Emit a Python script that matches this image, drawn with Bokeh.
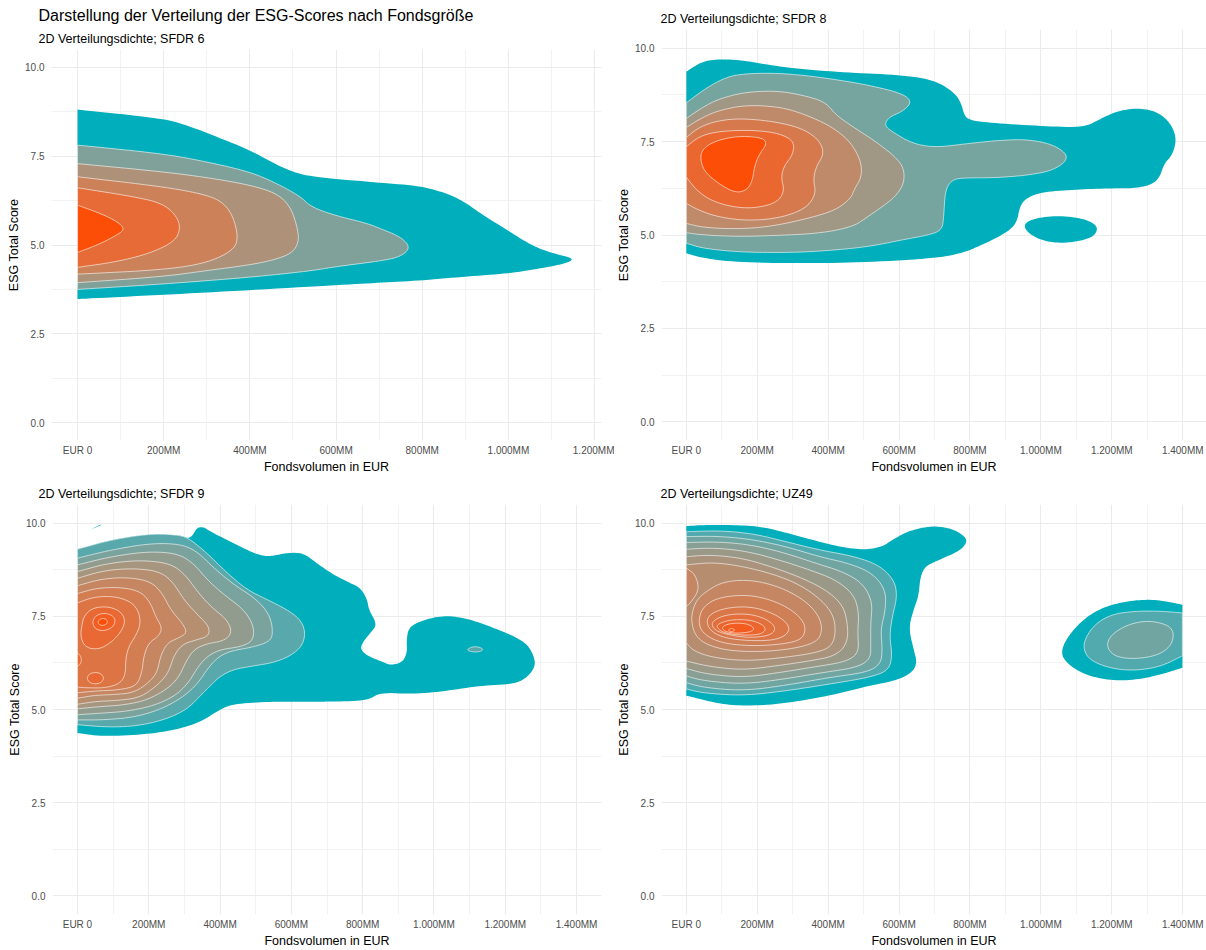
from bokeh.plotting import figure
from bokeh.layouts import column, row
from bokeh.models import FixedTicker, Range1d, Title, NumeralTickFormatter
from bokeh.embed import file_html
from bokeh.resources import INLINE

FONT = "Liberation Sans"

MAIN_TITLE = "Darstellung der Verteilung der ESG-Scores nach Fondsgröße"
SUBTITLES = ["2D Verteilungsdichte; SFDR 6", "2D Verteilungsdichte; SFDR 8",
             "2D Verteilungsdichte; SFDR 9", "2D Verteilungsdichte; UZ49"]
X_LABEL = "Fondsvolumen in EUR"
Y_LABEL = "ESG Total Score"
X_TICKS = [0, 200, 400, 600, 800, 1000, 1200, 1400]
X_TICK_LABELS = ["EUR 0", "200MM", "400MM", "600MM", "800MM", "1.000MM", "1.200MM", "1.400MM"]
Y_TICKS = [0, 2.5, 5, 7.5, 10]
LOW_COLOR = "#00AFBB"
HIGH_COLOR = "#FC4E07"

# ---------------- contour outlines (x = Fondsvolumen in Mio. EUR, y = ESG score) ----------------
# SFDR 6
sfdr6_l1 = [(0, 8.81), (198, 8.56), (254, 8.37), (324, 8.04), (400, 7.67), (463, 7.25), (500, 7.06),
            (541, 6.92), (703, 6.75), (796, 6.66), (858, 6.45), (897, 6.22), (935, 5.89), (997, 5.42),
            (1052, 5.0), (1098, 4.78), (1158, 4.61), (1121, 4.44), (1052, 4.30), (1000, 4.20),
            (899, 4.11), (796, 4.0), (703, 3.94), (600, 3.87), (400, 3.73), (200, 3.60), (0, 3.48)]
sfdr6_l2 = [(0, 7.81), (198, 7.57), (300, 7.34), (400, 7.06), (463, 6.73), (518, 6.36), (541, 6.08),
            (595, 5.84), (672, 5.61), (703, 5.46), (750, 5.23), (773, 4.93), (750, 4.67), (703, 4.55),
            (599, 4.39), (541, 4.27), (400, 4.09), (198, 3.90), (0, 3.75)]
sfdr6_l3 = [(0, 7.29), (198, 7.06), (300, 6.90), (400, 6.69), (463, 6.45), (494, 6.08), (510, 5.51),
            (514, 5.09), (498, 4.77), (456, 4.58), (400, 4.44), (300, 4.28), (198, 4.11), (0, 3.94)]
sfdr6_l4 = [(0, 6.92), (198, 6.64), (285, 6.45), (333, 6.25), (360, 5.85), (373, 5.23), (363, 4.86),
            (300, 4.49), (198, 4.30), (0, 4.18)]
sfdr6_l5 = [(0, 6.61), (131, 6.36), (198, 6.17), (231, 5.80), (239, 5.44), (224, 5.09), (169, 4.77),
            (92, 4.53), (0, 4.37)]
sfdr6_l6 = [(0, 6.12), (53, 5.89), (92, 5.66), (111, 5.44), (84, 5.23), (46, 5.0), (0, 4.79)]

# SFDR 8
sfdr8_l1 = [(0, 9.37), (38, 9.61), (76, 9.70), (141, 9.70), (235, 9.55), (328, 9.43), (469, 9.34),
            (609, 9.28), (702, 9.14), (759, 8.79), (777, 8.48), (782, 8.25), (796, 8.07), (871, 7.99),
            (1011, 7.91), (1123, 7.88), (1170, 8.12), (1217, 8.32), (1273, 8.40), (1329, 8.30),
            (1366, 7.99), (1383, 7.58), (1371, 7.14), (1348, 6.92), (1334, 6.52), (1310, 6.34),
            (1264, 6.25), (1198, 6.25), (1105, 6.22), (1011, 6.16), (964, 6.02), (941, 5.80),
            (932, 5.31), (899, 5.04), (833, 4.73), (777, 4.51), (702, 4.38), (515, 4.27),
            (328, 4.24), (141, 4.27), (48, 4.38), (0, 4.51)]
sfdr8_l1b = [(950, 5.29), (983, 5.45), (1048, 5.52), (1114, 5.45), (1151, 5.31), (1161, 5.13),
             (1142, 4.91), (1076, 4.78), (1011, 4.82), (964, 5.04)]
sfdr8_l2 = [(0, 8.54), (48, 8.88), (94, 9.14), (141, 9.30), (235, 9.34), (328, 9.28), (422, 9.16),
            (515, 9.01), (609, 8.79), (637, 8.56), (609, 8.30), (572, 8.16), (558, 7.94), (581, 7.76),
            (637, 7.45), (702, 7.34), (796, 7.45), (889, 7.54), (964, 7.56), (1039, 7.41), (1082, 7.08),
            (1039, 6.74), (964, 6.60), (871, 6.53), (777, 6.53), (749, 6.47), (730, 6.20), (726, 5.49),
            (721, 5.13), (684, 5.0), (609, 4.87), (515, 4.69), (422, 4.60), (328, 4.54), (235, 4.53),
            (141, 4.55), (48, 4.64), (0, 4.78)]
sfdr8_l3 = [(0, 8.12), (48, 8.43), (94, 8.65), (169, 8.83), (263, 8.86), (347, 8.70), (394, 8.54),
            (422, 8.21), (469, 7.90), (534, 7.50), (590, 7.09), (614, 6.78), (614, 6.38), (590, 6.03),
            (553, 5.76), (506, 5.45), (469, 5.22), (375, 5.04), (235, 4.98), (141, 4.96), (48, 5.0),
            (0, 5.06)]
sfdr8_l4 = [(0, 7.88), (48, 8.16), (94, 8.34), (169, 8.48), (263, 8.43), (328, 8.25), (403, 7.94),
            (459, 7.54), (492, 7.01), (495, 6.56), (474, 6.23), (464, 5.98), (422, 5.67), (347, 5.45),
            (235, 5.22), (141, 5.16), (48, 5.20), (0, 5.31)]
sfdr8_l5 = [(0, 7.61), (38, 7.90), (94, 8.07), (160, 8.12), (253, 8.03), (328, 7.85), (375, 7.54),
            (389, 7.18), (366, 6.83), (358, 6.47), (366, 6.11), (338, 5.71), (263, 5.45), (169, 5.38),
            (85, 5.49), (29, 5.69), (0, 5.85)]
sfdr8_l6 = [(0, 7.36), (38, 7.65), (94, 7.78), (188, 7.81), (263, 7.72), (305, 7.50), (300, 7.14),
            (277, 6.87), (267, 6.56), (277, 6.16), (253, 5.85), (188, 5.71), (123, 5.76), (66, 5.94),
            (29, 6.20), (6, 6.47), (0, 6.56)]
sfdr8_l7 = [(43, 7.27), (76, 7.50), (141, 7.65), (216, 7.61), (227, 7.43), (207, 7.18), (193, 6.87),
            (186, 6.43), (169, 6.19), (137, 6.13), (90, 6.38), (52, 6.69), (40, 6.99)]

# SFDR 9
sfdr9_l1 = [(0, 9.30), (93, 9.55), (205, 9.72), (289, 9.68), (317, 9.56), (340, 9.97), (383, 9.72),
            (439, 9.46), (495, 9.19), (532, 9.10), (560, 9.15), (598, 9.21), (635, 9.19), (672, 8.92),
            (719, 8.61), (766, 8.39), (794, 8.26), (813, 7.95), (817, 7.68), (841, 7.28), (822, 7.06),
            (799, 6.79), (794, 6.61), (813, 6.44), (860, 6.26), (878, 6.19), (911, 6.26), (925, 6.52),
            (923, 6.88), (930, 7.22), (972, 7.41), (1028, 7.52), (1084, 7.46), (1131, 7.32),
            (1178, 7.15), (1224, 6.97), (1262, 6.75), (1280, 6.44), (1285, 6.17), (1262, 5.86),
            (1224, 5.68), (1131, 5.64), (1037, 5.50), (944, 5.41), (850, 5.46), (813, 5.24),
            (719, 5.21), (626, 5.21), (532, 5.21), (439, 5.15), (401, 5.01), (345, 4.66), (270, 4.44),
            (177, 4.32), (65, 4.28), (0, 4.37)]
sfdr9_l1b = [(30, 9.80), (55, 9.90), (70, 9.96), (62, 9.95), (40, 9.84)]
sfdr9_l2 = [(0, 9.30), (93, 9.55), (205, 9.72), (289, 9.68), (317, 9.56), (364, 9.19), (420, 8.66),
            (476, 8.21), (532, 7.95), (588, 7.68), (626, 7.41), (640, 7.06), (630, 6.70), (598, 6.44),
            (551, 6.26), (495, 6.17), (439, 6.08), (401, 5.90), (373, 5.64), (345, 5.37), (308, 5.01),
            (252, 4.75), (177, 4.57), (93, 4.52), (0, 4.59)]
sfdr9_l2b = [(1093, 6.61), (1104, 6.67), (1118, 6.69), (1134, 6.65), (1138, 6.60), (1128, 6.55),
             (1112, 6.54), (1098, 6.57)]
sfdr9_l3 = [(0, 9.06), (93, 9.28), (205, 9.46), (289, 9.44), (336, 9.24), (383, 8.79), (439, 8.35),
            (504, 7.95), (542, 7.50), (549, 6.97), (532, 6.79), (485, 6.66), (429, 6.57), (392, 6.39),
            (364, 6.08), (336, 5.68), (294, 5.32), (233, 5.0), (158, 4.79), (74, 4.72), (0, 4.72)]
sfdr9_l4 = [(0, 8.88), (93, 9.10), (196, 9.24), (280, 9.19), (326, 8.92), (364, 8.48), (411, 8.08),
            (467, 7.68), (495, 7.24), (493, 6.84), (457, 6.68), (401, 6.61), (364, 6.43), (336, 6.12),
            (312, 5.72), (275, 5.37), (214, 5.10), (139, 4.95), (65, 4.90), (0, 4.86)]
sfdr9_l5 = [(0, 8.70), (83, 8.92), (177, 9.01), (261, 8.92), (303, 8.61), (336, 8.17), (373, 7.77),
            (420, 7.41), (434, 7.06), (411, 6.84), (364, 6.77), (326, 6.61), (303, 6.26), (284, 5.86),
            (252, 5.55), (195, 5.25), (130, 5.12), (65, 5.08), (0, 5.02)]
sfdr9_l6 = [(0, 8.52), (74, 8.73), (158, 8.79), (233, 8.70), (270, 8.39), (298, 7.95), (336, 7.55),
            (369, 7.24), (369, 6.97), (331, 6.86), (294, 6.75), (270, 6.44), (256, 6.0), (228, 5.68),
            (177, 5.32), (111, 5.24), (55, 5.22), (0, 5.14)]
sfdr9_l7 = [(0, 8.32), (65, 8.50), (139, 8.55), (205, 8.44), (238, 8.12), (261, 7.68), (294, 7.32),
            (308, 7.06), (284, 6.92), (252, 6.79), (233, 6.44), (224, 6.0), (200, 5.72), (158, 5.45),
            (102, 5.40), (46, 5.38), (0, 5.30)]
sfdr9_l8 = [(0, 8.11), (55, 8.26), (121, 8.28), (177, 8.17), (205, 7.86), (219, 7.50), (238, 7.19),
            (228, 6.97), (200, 6.79), (186, 6.44), (181, 5.99), (165, 5.62), (111, 5.52), (55, 5.50),
            (0, 5.45)]
sfdr9_l9 = [(0, 7.86), (46, 8.02), (102, 8.04), (149, 7.90), (172, 7.64), (177, 7.28), (163, 6.97),
            (144, 6.70), (135, 6.35), (135, 5.95), (120, 5.70), (80, 5.58), (30, 5.58), (0, 5.60)]
sfdr9_l10 = [(18, 7.50), (41, 7.72), (83, 7.77), (121, 7.64), (135, 7.37), (121, 7.06), (93, 6.79),
             (60, 6.61), (22, 6.66), (8, 6.97), (13, 7.28)]
sfdr9_l10b = [(25, 5.84), (37, 5.99), (63, 5.99), (76, 5.84), (63, 5.69), (37, 5.69)]
sfdr9_l10c = [(0, 6.52), (8, 6.45), (12, 6.33), (7, 6.20), (0, 6.17)]
sfdr9_l11 = [(41, 7.37), (55, 7.55), (83, 7.59), (107, 7.46), (102, 7.22), (74, 7.10), (49, 7.16)]
sfdr9_l12 = [(57, 7.36), (66, 7.45), (81, 7.43), (85, 7.32), (74, 7.25), (61, 7.27)]

# UZ49
uz49_l1 = [(0, 9.92), (48, 9.95), (141, 9.95), (216, 9.90), (291, 9.72), (375, 9.50), (441, 9.35),
           (506, 9.28), (553, 9.37), (581, 9.55), (628, 9.80), (693, 9.93), (749, 9.86), (787, 9.64),
           (791, 9.46), (768, 9.24), (702, 8.97), (674, 8.84), (660, 8.57), (655, 8.04), (641, 7.68),
           (627, 7.19), (641, 6.61), (651, 6.26), (637, 5.99), (590, 5.77), (515, 5.64), (422, 5.41),
           (328, 5.24), (235, 5.12), (141, 5.10), (76, 5.19), (10, 5.35), (0, 5.37)]
uz49_l1b = [(1399, 7.81), (1338, 7.93), (1282, 7.95), (1217, 7.86), (1161, 7.68), (1114, 7.37),
            (1077, 6.97), (1058, 6.61), (1063, 6.35), (1095, 6.08), (1142, 5.88), (1208, 5.77),
            (1282, 5.81), (1357, 5.99), (1399, 6.12)]
uz49_l2 = [(0, 9.77), (94, 9.80), (188, 9.72), (282, 9.50), (375, 9.28), (469, 9.12), (543, 8.88),
           (586, 8.48), (595, 8.04), (581, 7.50), (573, 6.97), (581, 6.44), (570, 6.04), (515, 5.86),
           (422, 5.71), (282, 5.50), (160, 5.37), (48, 5.44), (0, 5.55)]
uz49_l2b = [(1399, 7.59), (1338, 7.64), (1264, 7.64), (1198, 7.55), (1151, 7.28), (1123, 6.88),
            (1121, 6.57), (1142, 6.30), (1198, 6.10), (1264, 6.04), (1338, 6.15), (1399, 6.44)]
uz49_l3 = [(0, 9.64), (94, 9.65), (188, 9.56), (282, 9.37), (375, 9.10), (459, 8.92), (525, 8.66),
           (562, 8.21), (562, 7.68), (548, 7.15), (553, 6.61), (548, 6.21), (506, 5.99), (403, 5.86),
           (282, 5.65), (160, 5.50), (48, 5.59), (0, 5.72)]
uz49_l3b = [(1184, 6.70), (1198, 7.01), (1245, 7.28), (1301, 7.39), (1357, 7.28), (1376, 7.06),
            (1367, 6.70), (1329, 6.45), (1264, 6.35), (1207, 6.42)]
uz49_l4 = [(0, 9.48), (94, 9.50), (188, 9.41), (282, 9.19), (366, 8.92), (441, 8.70), (497, 8.39),
           (525, 7.90), (520, 7.32), (520, 6.79), (520, 6.35), (478, 6.12), (384, 5.99), (272, 5.81),
           (160, 5.68), (48, 5.77), (0, 5.90)]
uz49_l5 = [(0, 9.30), (76, 9.34), (169, 9.25), (263, 9.01), (347, 8.75), (422, 8.48), (473, 8.08),
           (487, 7.59), (483, 7.06), (487, 6.52), (450, 6.28), (366, 6.15), (263, 5.99), (160, 5.86),
           (57, 5.95), (0, 6.10)]
uz49_l6 = [(0, 9.10), (66, 9.15), (160, 9.06), (253, 8.79), (328, 8.52), (394, 8.21), (441, 7.81),
           (455, 7.32), (455, 6.79), (422, 6.44), (347, 6.30), (253, 6.17), (160, 6.06), (66, 6.15),
           (0, 6.30)]
uz49_l7 = [(0, 8.88), (76, 8.95), (160, 8.84), (253, 8.61), (319, 8.35), (375, 7.99), (412, 7.59),
           (422, 7.15), (412, 6.70), (366, 6.52), (272, 6.39), (169, 6.30), (76, 6.39), (20, 6.57),
           (0, 6.79)]
uz49_l8 = [(48, 8.12), (104, 8.44), (188, 8.48), (272, 8.26), (338, 7.90), (375, 7.50), (384, 7.10),
           (366, 6.79), (291, 6.61), (188, 6.54), (94, 6.61), (29, 6.88), (12, 7.41), (24, 7.86)]
uz49_l8b = [(0, 8.79), (25, 8.63), (37, 8.22), (12, 7.86), (0, 7.77)]
uz49_l9 = [(48, 7.77), (94, 8.02), (179, 8.08), (253, 7.90), (310, 7.59), (338, 7.24), (328, 6.88),
           (272, 6.75), (179, 6.70), (94, 6.79), (43, 7.06), (34, 7.41)]
uz49_l10 = [(57, 7.50), (104, 7.72), (179, 7.77), (244, 7.59), (286, 7.32), (291, 7.06), (253, 6.86),
            (179, 6.84), (104, 6.92), (62, 7.15)]
uz49_l11 = [(71, 7.37), (113, 7.55), (179, 7.57), (230, 7.41), (253, 7.19), (239, 6.99), (179, 6.92),
            (113, 7.01), (76, 7.15)]
uz49_l12 = [(85, 7.28), (123, 7.41), (179, 7.41), (216, 7.28), (225, 7.13), (207, 7.01), (160, 6.99),
            (113, 7.04), (90, 7.15)]
uz49_l13 = [(99, 7.22), (127, 7.32), (169, 7.31), (193, 7.19), (183, 7.08), (141, 7.04), (108, 7.09)]
uz49_l14 = [(116, 7.13), (127, 7.18), (139, 7.14), (128, 7.08)]

SFDR6 = [[sfdr6_l1], [sfdr6_l2], [sfdr6_l3], [sfdr6_l4], [sfdr6_l5], [sfdr6_l6]]
SFDR8 = [[sfdr8_l1, sfdr8_l1b], [sfdr8_l2], [sfdr8_l3], [sfdr8_l4], [sfdr8_l5], [sfdr8_l6], [sfdr8_l7]]
SFDR9 = [[sfdr9_l1, sfdr9_l1b], [sfdr9_l2, sfdr9_l2b], [sfdr9_l3], [sfdr9_l4], [sfdr9_l5], [sfdr9_l6],
         [sfdr9_l7], [sfdr9_l8], [sfdr9_l9], [sfdr9_l10, sfdr9_l10b, sfdr9_l10c], [sfdr9_l11], [sfdr9_l12]]
UZ49 = [[uz49_l1, uz49_l1b], [uz49_l2, uz49_l2b], [uz49_l3, uz49_l3b], [uz49_l4], [uz49_l5], [uz49_l6],
        [uz49_l7], [uz49_l8, uz49_l8b], [uz49_l9], [uz49_l10], [uz49_l11], [uz49_l12], [uz49_l13],
        [uz49_l14]]


# ---------------- helpers ----------------
def _lin(c):
    c = c / 255.0
    return c / 12.92 if c <= 0.04045 else ((c + 0.055) / 1.055) ** 2.4


def _f(t):
    return t ** (1 / 3) if t > 0.008856 else 7.787 * t + 16 / 116


def hex2lab(h):
    r, g, b = [_lin(int(h[i:i + 2], 16)) for i in (1, 3, 5)]
    X = (0.4124 * r + 0.3576 * g + 0.1805 * b) / 0.95047
    Y = 0.2126 * r + 0.7152 * g + 0.0722 * b
    Z = (0.0193 * r + 0.1192 * g + 0.9505 * b) / 1.08883
    fx, fy, fz = _f(X), _f(Y), _f(Z)
    return 116 * fy - 16, 500 * (fx - fy), 200 * (fy - fz)


def lab2hex(L, a, b):
    fy = (L + 16) / 116
    fx = fy + a / 500
    fz = fy - b / 200

    def inv(t):
        return t ** 3 if t ** 3 > 0.008856 else (t - 16 / 116) / 7.787
    X, Y, Z = inv(fx) * 0.95047, inv(fy), inv(fz) * 1.08883
    rgb = [3.2406 * X - 1.5372 * Y - 0.4986 * Z,
           -0.9689 * X + 1.8758 * Y + 0.0415 * Z,
           0.0557 * X - 0.2040 * Y + 1.0570 * Z]
    out = []
    for c in rgb:
        c = max(0.0, c)
        c = 12.92 * c if c <= 0.0031308 else 1.055 * c ** (1 / 2.4) - 0.055
        out.append(max(0, min(255, int(round(c * 255)))))
    return "#%02x%02x%02x" % tuple(out)


LAB_LO, LAB_HI = hex2lab(LOW_COLOR), hex2lab(HIGH_COLOR)


def level_color(t):
    return lab2hex(*[lo + (hi - lo) * t for lo, hi in zip(LAB_LO, LAB_HI)])


def smooth(ring, iters=3):
    pts = []
    for (x, y) in ring:
        pts.append((x, y))
        if x <= 0 or x >= 1399:
            pts.append((x, y))
    for _ in range(iters):
        new = []
        n = len(pts)
        for i in range(n):
            (x0, y0), (x1, y1) = pts[i], pts[(i + 1) % n]
            new.append((0.75 * x0 + 0.25 * x1, 0.75 * y0 + 0.25 * y1))
            new.append((0.25 * x0 + 0.75 * x1, 0.25 * y0 + 0.75 * y1))
        pts = new
    return [p[0] for p in pts], [p[1] for p in pts]


def make_panel(levels, subtitle, width, height, x_start, x_end, xmax_tick,
               mb_left, mb_right, mb_top, mb_bottom, title_offset, main_title=None):
    p = figure(width=width, height=height, output_backend="svg", toolbar_location=None,
               title_location=None,
               x_range=Range1d(x_start, x_end), y_range=Range1d(-0.5, 10.5),
               min_border_left=mb_left, min_border_right=mb_right,
               min_border_top=mb_top, min_border_bottom=mb_bottom)
    if "frame_align" in p.properties():
        p.frame_align = False
    p.outline_line_color = None
    p.background_fill_color = "white"
    p.border_fill_color = "white"

    sub = Title(text=subtitle, text_font=FONT, text_font_size="12.5px", text_font_style="normal",
                text_color="black", align="left", offset=title_offset, standoff=8)
    p.add_layout(sub, "above")
    if main_title:
        mt = Title(text=main_title, text_font=FONT, text_font_size="16px", text_font_style="normal",
                   text_color="black", align="left", offset=title_offset, standoff=3)
        p.add_layout(mt, "above")

    ticks = [t for t in X_TICKS if t <= xmax_tick]
    minor = [t + 100 for t in range(-200, 1600, 200)]
    xt = FixedTicker(ticks=ticks, minor_ticks=minor)
    yt = FixedTicker(ticks=Y_TICKS, minor_ticks=[-1.25, 1.25, 3.75, 6.25, 8.75])
    p.xaxis.ticker = xt
    p.yaxis.ticker = yt
    p.xgrid.ticker = xt
    p.ygrid.ticker = yt
    p.xaxis.major_label_overrides = {t: lab for t, lab in zip(X_TICKS, X_TICK_LABELS)}
    p.yaxis.formatter = NumeralTickFormatter(format="0.0")
    for g in (p.xgrid, p.ygrid):
        g.grid_line_color = "#EBEBEB"
        g.grid_line_width = 1.1
        g.minor_grid_line_color = "#EFEFEF"
        g.minor_grid_line_width = 0.8

    for ax in (p.xaxis, p.yaxis):
        ax.axis_line_color = None
        ax.major_tick_line_color = None
        ax.minor_tick_line_color = None
        ax.major_tick_out = 0
        ax.major_tick_in = 0
        ax.minor_tick_out = 0
        ax.minor_tick_in = 0
        ax.major_label_text_font = FONT
        ax.major_label_text_font_size = "10px"
        ax.major_label_text_color = "#4D4D4D"
        ax.axis_label_text_font = FONT
        ax.axis_label_text_font_size = "12.5px"
        ax.axis_label_text_font_style = "normal"
        ax.axis_label_text_color = "black"
    p.xaxis.axis_label = X_LABEL
    p.yaxis.axis_label = Y_LABEL
    p.xaxis.major_label_standoff = 4
    p.xaxis.axis_label_standoff = 1
    p.yaxis.major_label_standoff = 7
    p.yaxis.axis_label_standoff = 1

    n = len(levels)
    for i, rings in enumerate(levels):
        col = level_color(i / (n - 1))
        for ring in rings:
            xs, ys = smooth(ring)
            p.patch(xs, ys, fill_color=col, fill_alpha=1.0,
                    line_color="white" if i > 0 else None, line_width=0.7, line_alpha=0.85)
    return p


p1 = make_panel(SFDR6, SUBTITLES[0], 614, 476, -60.4, 1216, 1200, 51, 13, 49, 35, -13, MAIN_TITLE)
p2 = make_panel(SFDR8, SUBTITLES[1], 592, 476, -70, 1467, 1400, 44, 0, 29, 35, -1)
p3 = make_panel(SFDR9, SUBTITLES[2], 614, 474, -70, 1470, 1400, 52, 13, 28, 33, -14)
p4 = make_panel(UZ49, SUBTITLES[3], 592, 474, -70, 1467, 1400, 44, 0, 28, 33, -1)

layout = column(row(p1, p2), row(p3, p4))
open("out.html", "w").write(file_html(layout, INLINE, title="ESG-Scores nach Fondsgröße"))
